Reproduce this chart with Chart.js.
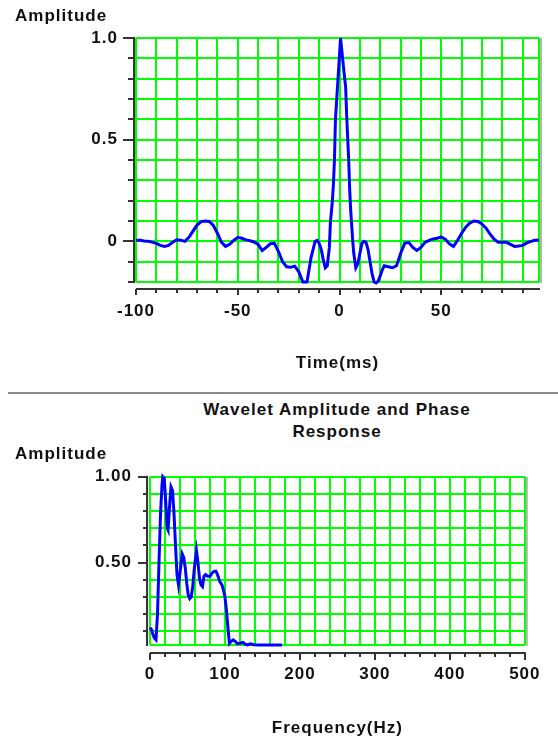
<!DOCTYPE html>
<html>
<head>
<meta charset="utf-8">
<script src="https://cdn.jsdelivr.net/npm/chart.js@4.4.1/dist/chart.umd.min.js"></script>
<style>
  html, body { margin: 0; padding: 0; background: #fff; width: 558px; height: 745px; overflow: hidden; }
  canvas { position: absolute; left: 0; }
  #c1 { top: 0; }
  #c2 { top: 430px; }
  #sep { position: absolute; left: 8px; top: 392px; width: 550px; height: 2px; background: #8a8a8a; }
  #title2 { position: absolute; left: 137px; width: 400px; top: 399px; text-align: center;
    font: bold 17px "Liberation Sans", Arial, sans-serif; line-height: 22px; letter-spacing: 1px; color: #111; }
</style>
</head>
<body>
<canvas id="c1" width="558" height="390"></canvas>
<div id="sep"></div>
<div id="title2">Wavelet Amplitude and Phase<br>Response</div>
<canvas id="c2" width="558" height="315"></canvas>
<script>
// ---------- data: wavelet (time domain) ----------
const timeMs = [-100,-98,-96,-94,-92,-90,-88,-86,-84,-82,-80,-78,-76,-74,-72,-70,-68,-66,-64,-62,-60,-58,-56,-54,-52,-50,-48,-46,-44,-42,-40,-38,-36,-34,-32,-30,-28,-26,-24,-22,-20,-18,-16,-14,-12,-11,-10,-9,-8,-7,-6,-5,-4.5,-3.5,-3,-2.5,-2,-1,0,0.5,1,2,3,3.5,4.5,5,5.5,6.5,7,8,9,10,11,12,13,14,15,16,17,18,19,20,21,22,24,26,28,30,32,34,36,38,40,42,44,46,48,50,52,54,56,58,60,62,64,66,68,70,72,74,76,78,80,82,84,86,88,90,92,94,96,98];
const waveletAmp = [0.005,0.005,0.002,0.0,-0.004,-0.01,-0.02,-0.025,-0.02,-0.005,0.008,0.006,0.0,0.02,0.05,0.08,0.097,0.1,0.098,0.078,0.04,-0.005,-0.025,-0.015,0.005,0.02,0.015,0.007,0.003,-0.003,-0.015,-0.045,-0.03,-0.012,-0.01,-0.05,-0.1,-0.125,-0.127,-0.122,-0.15,-0.2,-0.2,-0.08,0.0,0.005,-0.01,-0.04,-0.09,-0.13,-0.12,-0.03,0.09,0.2,0.28,0.4,0.6,0.76,0.92,1.0,0.95,0.85,0.76,0.62,0.4,0.25,0.15,0.0,-0.06,-0.13,-0.11,-0.06,-0.01,0.0,-0.005,-0.04,-0.1,-0.16,-0.2,-0.205,-0.195,-0.17,-0.14,-0.12,-0.125,-0.13,-0.12,-0.06,-0.01,-0.005,-0.03,-0.045,-0.03,-0.005,0.005,0.012,0.015,0.022,0.01,-0.012,-0.025,0.005,0.04,0.07,0.09,0.1,0.098,0.085,0.065,0.035,0.01,-0.005,-0.005,-0.005,-0.015,-0.025,-0.023,-0.02,-0.008,0.0,0.005,0.007];

// ---------- data: amplitude spectrum ----------
const freqHz = [0,2,4,6,8,10,12,14,16,17,19,21,23,24,26,28,30,32,34,36,38,40,43,45,47,49,51,53,55,57,59,62,64,66,68,70,72,74,77,80,83,86,88,90,93,96,98,100,102,104,106,108,111,114,117,120,124,127,130,134,138,145,160,176];
const specAmp = [0.12,0.11,0.08,0.06,0.05,0.2,0.5,0.78,0.95,1.0,0.99,0.85,0.7,0.69,0.82,0.94,0.92,0.79,0.6,0.43,0.37,0.44,0.55,0.53,0.47,0.38,0.31,0.29,0.3,0.36,0.46,0.57,0.5,0.41,0.37,0.36,0.42,0.43,0.42,0.42,0.44,0.45,0.45,0.43,0.39,0.37,0.34,0.3,0.22,0.12,0.03,0.04,0.05,0.04,0.027,0.03,0.035,0.025,0.02,0.027,0.022,0.02,0.02,0.02];

// ---------- axis ranges and tick labels ----------
const timeRange = [-100, 98];
const timeGridStep = 10;
const timeLabelValues = [-100, -50, 0, 50];
const ampTopRange = [-0.2, 1.0];
const ampTopLabelValues = [0, 0.5, 1.0];
const ampTopLabelText = ["0", "0.5", "1.0"];
const freqRange = [0, 500];
const freqGridStep = 20;
const freqLabelValues = [0, 100, 200, 300, 400, 500];
const ampBotRange = [0.02, 1.0];
const ampBotLabelValues = [0.5, 1.0];
const ampBotLabelText = ["0.50", "1.00"];
const ampGridStep = 0.1;

const FONT = { family: '"Liberation Sans", Arial, sans-serif', size: 17, weight: 'bold', lineHeight: 1.2 };
const TXT = '#111';
const GREEN = '#00ff00';

function stepTicks(min, max, step) {
  const out = [];
  const k0 = Math.ceil(min / step - 1e-9), k1 = Math.floor(max / step + 1e-9);
  if (Math.abs(min / step - k0) > 1e-9) out.push(min);
  for (let k = k0; k <= k1; k++) out.push(+(k * step).toFixed(6));
  if (Math.abs(max / step - k1) > 1e-9) out.push(max);
  return out.map(v => ({ value: v }));
}
function labelFor(values, texts) {
  return v => {
    const i = values.findIndex(x => Math.abs(x - v) < 1e-6);
    return i < 0 ? '' : (texts ? texts[i] : String(values[i]));
  };
}
const isMult = (v, s) => Math.abs(v / s - Math.round(v / s)) < 1e-6;

const spacingPlugin = {
  id: 'spacing',
  beforeDraw(chart) { chart.ctx.letterSpacing = '1px'; }
};

const axisDecor = {
  id: 'axisDecor',
  afterDraw(chart, args, o) {
    const { ctx, chartArea: a, scales: { x, y } } = chart;
    ctx.save();
    ctx.lineWidth = 2;
    ctx.lineCap = 'butt';
    const ln = (x1, y1, x2, y2) => { ctx.beginPath(); ctx.moveTo(x1, y1); ctx.lineTo(x2, y2); ctx.stroke(); };
    // right-edge shadow
    ctx.strokeStyle = '#b4b4b4';
    ln(a.right + 2, a.top, a.right + 2, a.bottom + 1);
    ctx.strokeStyle = '#333';
    // y axis
    const yx = a.left - o.yOff;
    ln(yx, a.top - 1, yx, a.bottom + 1);
    y.ticks.forEach(t => {
      if (!isMult(t.value, o.yStep)) return;
      const py = Math.round(y.getPixelForValue(t.value));
      const len = t.label ? o.yMajor : o.yMinor;
      ln(yx - len, py, yx, py);
    });
    // x axis
    const xy = a.bottom + o.xOff;
    ln(a.left, xy, a.right + 1, xy);
    x.ticks.forEach(t => {
      if (!isMult(t.value, o.xStep)) return;
      const px = Math.round(x.getPixelForValue(t.value));
      const len = t.label ? o.xMajor : o.xMinor;
      ln(px, xy, px, xy + len);
    });
    ctx.restore();
  }
};

const commonGrid = { color: GREEN, lineWidth: 2, drawTicks: false };

// ---------- chart 1: wavelet ----------
new Chart(document.getElementById('c1'), {
  type: 'line',
  data: {
    datasets: [{
      data: timeMs.map((t, i) => ({ x: t, y: waveletAmp[i] })),
      borderColor: '#0000ff', borderWidth: 3, pointRadius: 0, tension: 0, clip: 4
    }]
  },
  options: {
    responsive: false, animation: false, devicePixelRatio: 1,
    layout: { padding: { left: 15, right: 19, top: 0, bottom: 0 } },
    plugins: {
      legend: { display: false }, tooltip: { enabled: false },
      title: { display: true, text: 'Amplitude', align: 'start', color: TXT, font: FONT, padding: { top: 6.3, bottom: 11.3 } },
      axisDecor: { yOff: 2, yMajor: 11, yMinor: 6, yStep: 0.1, xOff: 7, xMajor: 6, xMinor: 4, xStep: timeGridStep }
    },
    scales: {
      x: {
        type: 'linear', min: timeRange[0], max: timeRange[1],
        afterBuildTicks: s => { s.ticks = stepTicks(timeRange[0], timeRange[1], timeGridStep); },
        afterFit: s => { s.height = 108; },
        grid: commonGrid, border: { display: false },
        ticks: { autoSkip: false, maxRotation: 0, minRotation: 0, padding: 19, color: TXT, font: FONT,
          callback: labelFor(timeLabelValues) },
        title: { display: true, text: 'Time(ms)', color: TXT, font: FONT, padding: { top: 0, bottom: 16 } }
      },
      y: {
        type: 'linear', min: ampTopRange[0], max: ampTopRange[1],
        afterBuildTicks: s => { s.ticks = stepTicks(ampTopRange[0], ampTopRange[1], ampGridStep); },
        afterFit: s => { s.width = 121; },
        grid: commonGrid, border: { display: false },
        ticks: { autoSkip: false, padding: 18, color: TXT, font: FONT,
          callback: labelFor(ampTopLabelValues, ampTopLabelText) }
      }
    }
  },
  plugins: [spacingPlugin, axisDecor]
});

// ---------- chart 2: amplitude spectrum ----------
new Chart(document.getElementById('c2'), {
  type: 'line',
  data: {
    datasets: [{
      data: freqHz.map((f, i) => ({ x: f, y: specAmp[i] })),
      borderColor: '#0000ff', borderWidth: 3, pointRadius: 0, tension: 0, clip: 4
    }]
  },
  options: {
    responsive: false, animation: false, devicePixelRatio: 1,
    layout: { padding: { left: 15, right: 19, top: 0, bottom: 0 } },
    plugins: {
      legend: { display: false }, tooltip: { enabled: false },
      title: { display: true, text: 'Amplitude', align: 'start', color: TXT, font: FONT, padding: { top: 14.5, bottom: 11.8 } },
      axisDecor: { yOff: 3, yMajor: 9, yMinor: 4, yStep: 0.1, xOff: 8, xMajor: 7, xMinor: 4, xStep: freqGridStep }
    },
    scales: {
      x: {
        type: 'linear', min: freqRange[0], max: freqRange[1],
        afterBuildTicks: s => { s.ticks = stepTicks(freqRange[0], freqRange[1], freqGridStep); },
        afterFit: s => { s.height = 100; },
        grid: commonGrid, border: { display: false },
        ticks: { autoSkip: false, maxRotation: 0, minRotation: 0, padding: 19, color: TXT, font: FONT,
          callback: labelFor(freqLabelValues) },
        title: { display: true, text: 'Frequency(Hz)', color: TXT, font: FONT, padding: { top: 0, bottom: 6 } }
      },
      y: {
        type: 'linear', min: ampBotRange[0], max: ampBotRange[1],
        afterBuildTicks: s => { s.ticks = stepTicks(ampBotRange[0], ampBotRange[1], ampGridStep); },
        afterFit: s => { s.width = 135; },
        grid: commonGrid, border: { display: false },
        ticks: { autoSkip: false, padding: 18, color: TXT, font: FONT,
          callback: labelFor(ampBotLabelValues, ampBotLabelText) }
      }
    }
  },
  plugins: [spacingPlugin, axisDecor]
});
</script>
</body>
</html>
